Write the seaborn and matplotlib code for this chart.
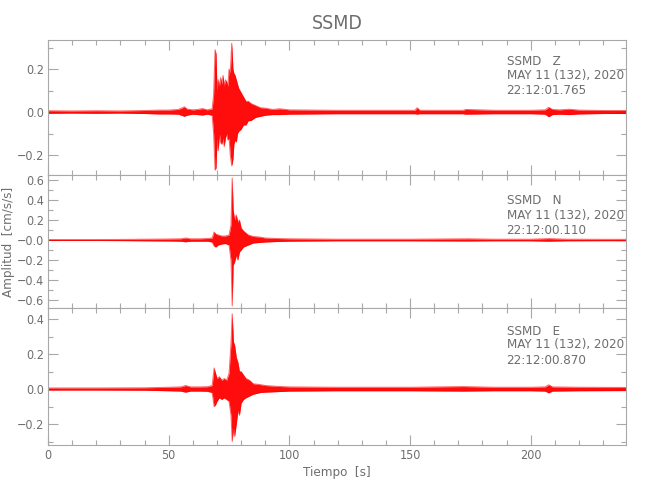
import numpy as np
import pandas as pd
import seaborn as sns
import matplotlib.pyplot as plt
from matplotlib.ticker import MultipleLocator, FixedLocator

t_z = [0, 10, 20, 30, 40, 46, 50, 54, 56.5, 57.5, 60, 62, 64, 66, 68, 68.6, 69.2, 69.6, 70.0,
       70.5, 71, 71.5, 72, 72.5, 73, 73.5, 74, 74.5, 75, 75.5, 76.1, 76.6, 77, 77.5, 78, 78.5,
       79, 80, 81, 82, 83, 84, 86, 88, 90, 93, 96, 100, 110, 120, 140, 152, 153, 154, 165,
       172, 173, 185, 200, 206, 207.5, 209, 212, 216, 220, 230, 239.5]
up_z = [0.006, 0.005, 0.006, 0.005, 0.007, 0.009, 0.009, 0.012, 0.024, 0.014, 0.010, 0.012,
        0.016, 0.010, 0.015, 0.08, 0.29, 0.27, 0.10, 0.15, 0.12, 0.16, 0.13, 0.17, 0.12, 0.15,
        0.14, 0.12, 0.20, 0.18, 0.32, 0.20, 0.18, 0.17, 0.15, 0.13, 0.11, 0.09, 0.07, 0.05,
        0.05, 0.04, 0.03, 0.02, 0.018, 0.012, 0.015, 0.010, 0.009, 0.008, 0.008, 0.008, 0.02,
        0.008, 0.008, 0.008, 0.012, 0.008, 0.008, 0.010, 0.022, 0.012, 0.010, 0.013, 0.009,
        0.007, 0.007]
lo_z = [-0.006, -0.005, -0.006, -0.005, -0.007, -0.009, -0.009, -0.010, -0.020, -0.015,
        -0.010, -0.012, -0.014, -0.010, -0.015, -0.10, -0.27, -0.26, -0.12, -0.18, -0.10,
        -0.14, -0.15, -0.12, -0.16, -0.12, -0.10, -0.13, -0.12, -0.20, -0.25, -0.22, -0.15,
        -0.13, -0.14, -0.10, -0.09, -0.08, -0.06, -0.06, -0.04, -0.04, -0.025, -0.02, -0.015,
        -0.012, -0.012, -0.010, -0.009, -0.008, -0.008, -0.008, -0.010, -0.008, -0.008,
        -0.008, -0.010, -0.008, -0.008, -0.010, -0.022, -0.012, -0.010, -0.012, -0.009,
        -0.007, -0.007]

t_n = [0, 20, 30, 40, 50, 55, 57, 59, 63, 66, 68, 68.8, 69.5, 70.5, 72, 73.5, 75, 75.8, 76.3,
       76.7, 77.3, 78, 78.6, 79.3, 80, 81, 82, 83, 85, 87.5, 90, 95, 100, 120, 150, 174,
       185, 200, 207.5, 215, 230, 239.5]
up_n = [0.005, 0.005, 0.006, 0.008, 0.010, 0.012, 0.020, 0.012, 0.012, 0.015, 0.02, 0.08,
        0.06, 0.05, 0.04, 0.04, 0.05, 0.15, 0.62, 0.30, 0.20, 0.25, 0.18, 0.20, 0.12, 0.09,
        0.07, 0.05, 0.035, 0.03, 0.02, 0.015, 0.012, 0.008, 0.008, 0.012, 0.008, 0.008,
        0.014, 0.008, 0.007, 0.007]
lo_n = [-0.005, -0.005, -0.006, -0.008, -0.010, -0.012, -0.018, -0.012, -0.012, -0.012,
        -0.02, -0.06, -0.07, -0.05, -0.04, -0.035, -0.05, -0.20, -0.66, -0.25, -0.22, -0.15,
        -0.20, -0.12, -0.10, -0.07, -0.06, -0.05, -0.03, -0.025, -0.02, -0.015, -0.012,
        -0.008, -0.008, -0.010, -0.008, -0.008, -0.012, -0.008, -0.007, -0.007]

t_e = [0, 20, 40, 50, 55, 57, 59, 63, 66, 68, 68.8, 69.4, 70, 71, 72, 73, 74, 75, 75.8, 76.3,
       76.8, 77.3, 78, 78.7, 79.3, 80, 81, 82, 83.5, 85, 88, 90, 95, 100, 120, 150, 172,
       185, 200, 206, 207.5, 209, 220, 239.5]
up_e = [0.006, 0.006, 0.007, 0.010, 0.012, 0.020, 0.012, 0.012, 0.013, 0.02, 0.12, 0.09,
        0.06, 0.07, 0.05, 0.06, 0.05, 0.09, 0.26, 0.43, 0.27, 0.25, 0.18, 0.15, 0.10, 0.10,
        0.08, 0.06, 0.05, 0.03, 0.025, 0.02, 0.015, 0.012, 0.010, 0.010, 0.014, 0.010, 0.010,
        0.012, 0.024, 0.012, 0.010, 0.009]
lo_e = [-0.006, -0.006, -0.007, -0.010, -0.012, -0.018, -0.012, -0.012, -0.013, -0.02,
        -0.10, -0.09, -0.07, -0.05, -0.06, -0.05, -0.06, -0.07, -0.15, -0.30, -0.22, -0.27,
        -0.20, -0.12, -0.15, -0.08, -0.06, -0.05, -0.04, -0.03, -0.02, -0.018, -0.015,
        -0.012, -0.010, -0.010, -0.012, -0.010, -0.010, -0.012, -0.022, -0.012, -0.010,
        -0.009]

componentes = ["Z", "N", "E"]
horas = ["22:12:01.765", "22:12:00.110", "22:12:00.870"]
fecha = "MAY 11 (132), 2020"
estacion = "SSMD"

ylims = [(-0.293, 0.335), (-0.68, 0.65), (-0.32, 0.463)]
yticks = [[-0.2, 0.0, 0.2], [-0.6, -0.4, -0.2, 0.0, 0.2, 0.4, 0.6], [-0.2, 0.0, 0.2, 0.4]]
ylabels = [["\u22120.2", "0.0", "0.2"],
           ["\u22120.6", "\u22120.4", "\u22120.2", "\u22120.0", "0.2", "0.4", "0.6"],
           ["\u22120.2", "0.0", "0.2", "0.4"]]
xticks = [0, 50, 100, 150, 200]

trazas = [(t_z, up_z, lo_z), (t_n, up_n, lo_n), (t_e, up_e, lo_e)]

sns.set_theme(style="ticks")
plt.rcParams["font.family"] = ["DejaVu Sans"]
plt.rcParams["font.stretch"] = "condensed"
gris = "#6e6e6e"
eje = "#a8a8a8"

fig = plt.figure(figsize=(6.5, 5), dpi=100)
# posiciones de los paneles (fraccion de figura)
pos = [[0.074, 0.65, 0.889, 0.27], [0.074, 0.384, 0.889, 0.266], [0.074, 0.11, 0.889, 0.274]]
text_y = [[0.84, 0.736, 0.624], [0.807, 0.694, 0.586], [0.832, 0.73, 0.62]]

for i, (t, up, lo) in enumerate(trazas):
    ax = fig.add_axes(pos[i])
    df = pd.DataFrame({"t": t, "up": up, "lo": lo})
    ax.fill_between(df["t"], df["lo"], df["up"], color="red", lw=0, alpha=0.95)
    sns.lineplot(data=df, x="t", y="up", ax=ax, color="red", lw=0.7, alpha=0.6)
    sns.lineplot(data=df, x="t", y="lo", ax=ax, color="red", lw=0.7, alpha=0.6)

    ax.set_xlim(0, 239.5)
    ax.set_ylim(*ylims[i])
    ax.xaxis.set_major_locator(FixedLocator(xticks))
    ax.xaxis.set_minor_locator(MultipleLocator(10))
    ax.yaxis.set_major_locator(FixedLocator(yticks[i]))
    ax.yaxis.set_minor_locator(MultipleLocator(0.1))
    ax.set_yticklabels(ylabels[i])
    ax.tick_params(which="both", direction="in", top=True, right=True, color=eje,
                   labelcolor=gris, labelsize=9, width=0.8, pad=3)
    ax.tick_params(which="major", length=7)
    ax.tick_params(which="minor", length=3.5)
    for s in ax.spines.values():
        s.set_color(eje)
        s.set_linewidth(0.8)
    ax.set_xlabel("")
    ax.set_ylabel("")
    if i < 2:
        ax.set_xticklabels([])
    else:
        ax.set_xticklabels([str(x) for x in xticks])
        ax.set_xlabel("Tiempo  [s]", color=gris, fontsize=9.5, labelpad=3)
    if i == 1:
        ax.set_ylabel("Amplitud  [cm/s/s]", color=gris, fontsize=9.5, labelpad=1)
    if i == 0:
        ax.set_title(estacion, color=gris, fontsize=14, pad=8)

    lineas = [f"{estacion}   {componentes[i]}", fecha, horas[i]]
    y0, y1 = ylims[i]
    for k, txt in enumerate(lineas):
        ax.text(190, y0 + text_y[i][k] * (y1 - y0), txt, fontsize=9.5, color=gris,
                va="center", ha="left")

fig.savefig("out.png", dpi=100, facecolor="white")
